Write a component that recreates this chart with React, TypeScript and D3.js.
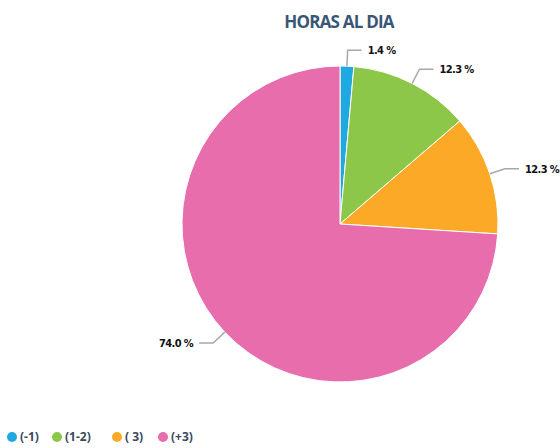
import React from "react";
import * as d3 from "d3";

const categories = ["(-1)", "(1-2)", "( 3)", "(+3)"];
const values = [1.4, 12.3, 12.3, 74.0];
const colors = ["#1fa9e1", "#8cc74a", "#fba926", "#e76dac"];
const title = "HORAS AL DIA";

const W = 560;
const H = 448;
const cx = 340;
const cy = 224;
const R = 158;

export default function App() {
  const pie = d3.pie<number>().sort(null).value((d) => d)(values);
  const arc = d3.arc<d3.PieArcDatum<number>>().innerRadius(0).outerRadius(R);
  const legendX = [12, 57, 117, 163];

  return (
    <svg
      width={W}
      height={H}
      style={{ position: "absolute", left: 0, top: 0, background: "#fff" }}
    >
      <text
        x={339}
        y={28}
        textAnchor="middle"
        fontFamily="Open Sans"
        fontWeight="bold"
        fontSize={17}
        fill="#3a5677"
        letterSpacing={-0.8}
      >
        {title}
      </text>
      <g>
        {pie.map((p, i) => (
          <path
            key={i}
            d={arc(p) || ""}
            transform={`translate(${cx},${cy})`}
            fill={colors[i]}
            stroke="#ffffff"
            strokeWidth={1}
          />
        ))}
      </g>
      <g>
        {pie.map((p, i) => {
          const mid = (p.startAngle + p.endAngle) / 2;
          const px = (r: number) => cx + r * Math.sin(mid);
          const py = (r: number) => cy - r * Math.cos(mid);
          const right = Math.sin(mid) >= 0;
          const x0 = px(R), y0 = py(R);
          const x1 = px(R + 16), y1 = py(R + 16);
          const x2 = x1 + (right ? 14 : -14);
          const tx = x2 + (right ? 6 : -6);
          return (
            <g key={i}>
              <path
                d={`M${x0},${y0} L${x1},${y1} L${x2},${y1}`}
                fill="none"
                stroke="#a8a8a8"
                strokeWidth={1.5}
              />
              <text
                x={tx}
                y={y1 + 4}
                textAnchor={right ? "start" : "end"}
                fontFamily="DejaVu Sans Condensed, DejaVu Sans"
                fontWeight="bold"
                fontSize={11}
                fill="#111"
                letterSpacing={-0.6}
              >
                {values[i].toFixed(1) + " %"}
              </text>
            </g>
          );
        })}
      </g>
      <g>
        {categories.map((c, i) => (
          <g key={c}>
            <circle cx={legendX[i]} cy={437} r={5} fill={colors[i]} />
            <text
              x={legendX[i] + 8}
              y={441}
              fontFamily="Open Sans"
              fontWeight="bold"
              fontSize={12}
              fill="#3b4a5e"
            >
              {c}
            </text>
          </g>
        ))}
      </g>
    </svg>
  );
}
